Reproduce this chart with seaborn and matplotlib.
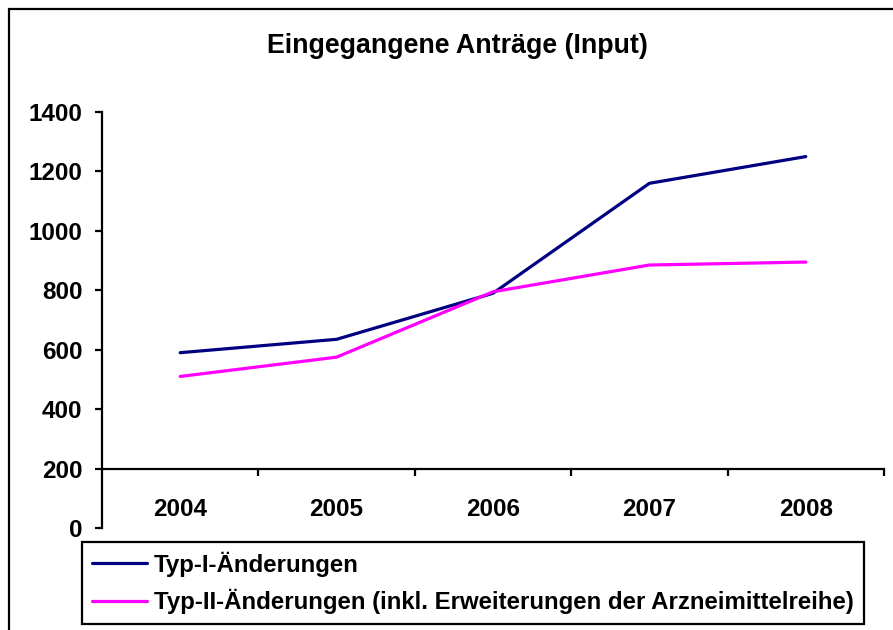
import pandas as pd
import numpy as np

import matplotlib.pyplot as plt
import matplotlib.patches as mpatches
from matplotlib.ticker import FixedLocator
import seaborn as sns

# ============================================================
# DATA
# ============================================================

years = ["2004", "2005", "2006", "2007", "2008"]
typ1 = [590, 635, 790, 1160, 1250]
typ2 = [510, 575, 795, 885, 895]

label1 = "Typ-I-Änderungen"
label2 = "Typ-II-Änderungen (inkl. Erweiterungen der Arzneimittelreihe)"

df = pd.DataFrame({
    "Jahr": years * 2,
    "Anzahl": typ1 + typ2,
    "Serie": [label1] * len(years) + [label2] * len(years),
})

# ============================================================
# STYLE
# ============================================================

sns.set_style("white", {
    "text.color": "black",
    "xtick.color": "black",
    "ytick.color": "black",
    "axes.edgecolor": "black",
})
plt.rcParams['font.family'] = ['Liberation Sans', 'DejaVu Sans']
plt.rcParams['font.weight'] = 'bold'

fig = plt.figure(figsize=(8.93, 6.3), dpi=100)
ax = fig.add_axes([102 / 893, 1 - 528 / 630, 782 / 893, 416 / 630])

sns.lineplot(
    data=df,
    x="Jahr",
    y="Anzahl",
    hue="Serie",
    palette={label1: "#000080", label2: "#FF00FF"},
    linewidth=2.3,
    ax=ax,
)

# ============================================================
# AXES
# ============================================================

ax.set_xlim(-0.5, 4.5)
ax.set_ylim(0, 1400)
ax.set_yticks(np.arange(0, 1401, 200))
ax.set_xlabel("")
ax.set_ylabel("")

ax.spines['top'].set_visible(False)
ax.spines['right'].set_visible(False)
ax.spines['bottom'].set_position(('data', 200))
for s in ['left', 'bottom']:
    ax.spines[s].set_linewidth(1.6)
    ax.spines[s].set_color('black')

ax.xaxis.set_minor_locator(FixedLocator([0.5, 1.5, 2.5, 3.5, 4.5]))
ax.tick_params(axis='x', which='major', length=0, pad=21, labelsize=17.5)
ax.tick_params(axis='x', which='minor', direction='out', length=5, width=1.6,
               color='black', bottom=True)
ax.tick_params(axis='y', direction='out', length=5, width=1.6, color='black',
               pad=9, labelsize=17.5, left=True)
for lab in ax.get_xticklabels() + ax.get_yticklabels():
    lab.set_fontweight('bold')
    lab.set_color('black')

# ============================================================
# TITLE
# ============================================================

fig.text(457 / 893, 1 - 46 / 630, "Eingegangene Anträge (Input)",
         ha='center', va='center', fontsize=19.3, fontweight='bold',
         color='black')

# ============================================================
# LEGEND
# ============================================================

leg = ax.legend(
    loc='upper left',
    bbox_to_anchor=(82 / 893, 1 - 542 / 630),
    bbox_transform=fig.transFigure,
    fontsize=17.3,
    frameon=True,
    fancybox=False,
    edgecolor='black',
    framealpha=1,
    borderaxespad=0,
    borderpad=0.4,
    handlelength=2.3,
    handletextpad=0.3,
    labelspacing=0.5,
)
leg.get_frame().set_linewidth(1.6)
for t in leg.get_texts():
    t.set_fontweight('bold')
    t.set_color('black')

# ============================================================
# OUTER FRAME
# ============================================================

frame = mpatches.Rectangle(
    (8.5 / 893, -0.1), 1.2, 1.1 - 9.5 / 630,
    transform=fig.transFigure, fill=False, edgecolor='black', linewidth=1.6,
)
fig.patches.append(frame)

plt.savefig("out.png", dpi=100)
